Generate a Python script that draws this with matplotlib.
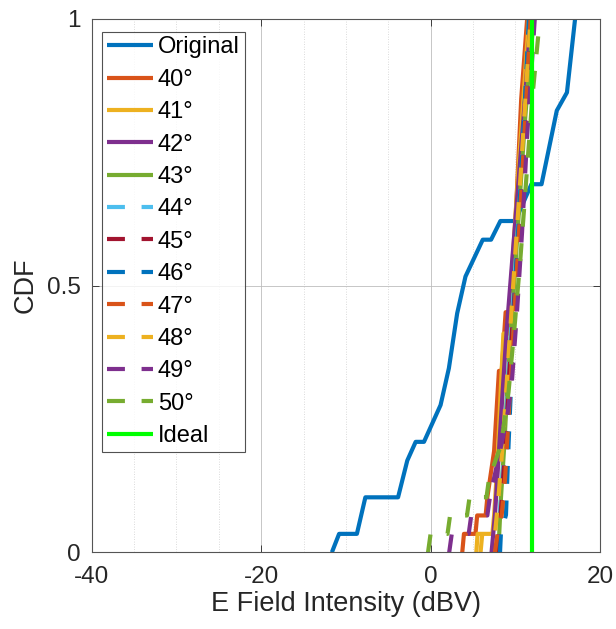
import matplotlib
matplotlib.use("Agg")
import matplotlib.pyplot as plt
from matplotlib.ticker import MultipleLocator, FixedLocator

plt.rcParams['font.family'] = ['Liberation Sans', 'DejaVu Sans']
plt.rcParams['axes.unicode_minus'] = False

# MATLAB default colour order
C_BLUE = '#0072BD'
C_ORANGE = '#D95319'
C_YELLOW = '#EDB120'
C_PURPLE = '#7E2F8E'
C_GREEN = '#77AC30'
C_CYAN = '#4DBEEE'
C_RED = '#A2142F'
C_IDEAL = '#00FF00'

# Empirical CDF of the E-field intensity (dBV)
orig_x = [-11.65, -10.8, -8.7, -7.7, -3.84, -2.75, -1.76, -0.78, 1.18, 2.16,
          3.14, 4.12, 6.16, 7.14, 8.24, 10.0, 11.9, 13.1, 14.9, 16.1, 17.06]
orig_y = [0.0, 0.0345, 0.0345, 0.103, 0.103, 0.172, 0.207, 0.207, 0.276, 0.345,
          0.448, 0.517, 0.586, 0.586, 0.621, 0.621, 0.690, 0.690, 0.828, 0.862, 1.0]

x40 = [3.74, 3.94, 5.3, 5.5, 6.5, 6.7, 7.5, 8.07, 8.4, 8.86, 9.55, 9.7, 10.2, 10.7, 11.4]
y40 = [0, .0345, .0345, .069, .069, .103, .19, .34, .34, .45, .45, .52, .68, .85, 1]

x41 = [5.4, 5.55, 7.3, 7.5, 7.9, 8.3, 8.6, 9.2, 9.5, 10.3, 11.0, 11.6]
y41 = [0, .0345, .0345, .069, .17, .31, .41, .41, .5, .7, .86, 1]

x42 = [7.2, 7.6, 8.0, 8.5, 9.0, 9.5, 10.0, 10.6, 11.2, 11.8]
y42 = [0, .07, .17, .3, .42, .52, .62, .74, .86, 1]

x43 = [8.0, 8.3, 8.7, 9.1, 9.6, 10.1, 10.6, 11.1, 11.7, 12.2]
y43 = [0, .1, .2, .32, .44, .56, .68, .8, .92, 1]

x44 = [7.8, 8.3, 8.8, 9.2, 9.7, 10.2, 10.7, 11.2, 11.7]
y44 = [0, .1, .22, .34, .46, .58, .7, .85, 1]

x45 = [7.9, 8.4, 8.9, 9.3, 9.8, 10.3, 10.8, 11.3, 11.8]
y45 = [0, .1, .22, .34, .46, .58, .7, .84, 1]

x46 = [8.2, 8.3, 8.9, 9.2, 9.6, 10.0, 10.5, 11.0, 11.6]
y46 = [0, .035, .07, .2, .35, .5, .65, .8, 1]

x47 = [7.6, 7.9, 8.4, 8.8, 9.3, 9.8, 10.3, 10.8, 11.3, 11.8]
y47 = [0, .035, .07, .14, .28, .42, .56, .7, .85, 1]

x48 = [5.9, 6.1, 7.6, 8.0, 8.5, 9.0, 9.5, 10.0, 10.6, 11.2, 11.8]
y48 = [0, .0345, .0345, .1, .2, .32, .44, .56, .7, .85, 1]

x49 = [2.2, 2.5, 4.5, 4.8, 6.7, 7.0, 8.2, 9.0, 9.6, 10.2, 10.8, 11.4, 12.3]
y49 = [0, .0345, .0345, .069, .069, .103, .19, .25, .32, .45, .6, .78, 1]

x50 = [-0.3, 0.0, 2.0, 2.3, 4.3, 4.6, 6.6, 6.9, 8.3, 9.2, 9.9, 10.6, 11.3, 12.0, 12.9]
y50 = [0, .0345, .0345, .069, .069, .103, .103, .138, .2, .3, .42, .55, .7, .85, 1]

ideal_level = 12.0

labels = ['Original', '40°', '41°', '42°', '43°', '44°', '45°', '46°',
          '47°', '48°', '49°', '50°', 'Ideal']

fig = plt.figure(figsize=(6.16, 6.29), dpi=100)
ax = fig.add_axes([0.149, 0.122, 0.825, 0.848])

LW = 3.0
DASH = (0, (4.3, 4.0))

series = [
    (orig_x, orig_y, C_BLUE, '-'),
    (x40, y40, C_ORANGE, '-'),
    (x41, y41, C_YELLOW, '-'),
    (x42, y42, C_PURPLE, '-'),
    (x43, y43, C_GREEN, '-'),
    (x44, y44, C_CYAN, DASH),
    (x45, y45, C_RED, DASH),
    (x46, y46, C_BLUE, DASH),
    (x47, y47, C_ORANGE, DASH),
    (x48, y48, C_YELLOW, DASH),
    (x49, y49, C_PURPLE, DASH),
    (x50, y50, C_GREEN, DASH),
]
for (xs, ys, col, ls), lab in zip(series, labels[:-1]):
    ax.plot(xs, ys, color=col, linestyle=ls, linewidth=LW, label=lab,
            solid_capstyle='butt', dash_capstyle='butt')
ax.plot([ideal_level, ideal_level], [0, 1], color=C_IDEAL, linewidth=LW,
        label=labels[-1], solid_capstyle='butt')

ax.set_xlim(-40, 20)
ax.set_ylim(0, 1)
ax.xaxis.set_major_locator(FixedLocator([-40, -20, 0, 20]))
ax.xaxis.set_minor_locator(MultipleLocator(5))
ax.yaxis.set_major_locator(FixedLocator([0, 0.5, 1]))
ax.set_yticklabels(['0', '0.5', '1'])

ax.grid(True, which='major', color='#bdbdbd', linewidth=0.6, linestyle='-')
ax.grid(True, which='minor', axis='x', color='#cfcfcf', linewidth=0.6,
        linestyle=(0, (1, 2)))
ax.set_axisbelow(True)

for s in ax.spines.values():
    s.set_color('#555555')
    s.set_linewidth(0.8)

ax.tick_params(which='both', direction='in', top=True, right=True,
               colors='#262626', labelsize=17.5)
ax.tick_params(axis='x', pad=10)
ax.tick_params(axis='y', pad=8)
ax.tick_params(which='major', length=5, width=0.6)
ax.tick_params(which='minor', length=0)

ax.set_xlabel('E Field Intensity (dBV)', fontsize=19.5, color='#262626', labelpad=2)
ax.set_ylabel('CDF', fontsize=19.5, color='#262626', labelpad=6)

leg = ax.legend(loc='upper left', bbox_to_anchor=(0.021, 0.976), fontsize=17,
                frameon=True, fancybox=False, edgecolor='#262626',
                handlelength=1.95, handletextpad=0.2, labelspacing=0.44,
                borderpad=0.2, borderaxespad=0.0)
leg.get_frame().set_linewidth(0.8)
for t in leg.get_texts():
    t.set_color('#000000')

fig.savefig('out.png', dpi=100)
